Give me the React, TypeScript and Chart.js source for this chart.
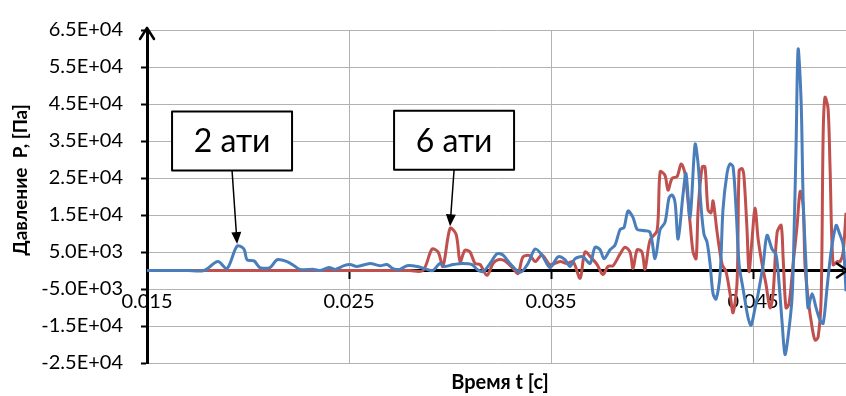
import { useEffect, useRef } from "react";
import { Chart, registerables } from "chart.js";

Chart.register(...registerables);

// ---- Data (time in s, pressure in Pa) ----
const series2atiLabel = "2 ати";
const series2ati: [number, number][] = [
  [0.015, 0], [0.016, 0], [0.017, 0], [0.01782, 0], [0.01851, 2400], [0.01896, 500], [0.01946, 6600], [0.0198, 5800],
  [0.01995, 2900], [0.0203, 2600], [0.02059, 800], [0.02109, 800], [0.02144, 2900], [0.02193, 2400],
  [0.02228, 1300], [0.02257, 300], [0.02327, 300], [0.02356, 0], [0.02401, 800], [0.02431, 300],
  [0.02475, 1300], [0.02505, 1600], [0.0254, 1100], [0.02604, 1900], [0.02653, 1300], [0.02688, 1600],
  [0.02718, 500], [0.02752, 300], [0.02787, 1300], [0.02837, 1100], [0.02886, 300], [0.02916, 0],
  [0.0295, 1900], [0.02975, 1100], [0.03015, 1600], [0.03064, 1900], [0.03109, 1600], [0.03134, 300],
  [0.03163, -300], [0.03198, 1900], [0.03233, 4500], [0.03262, 4200], [0.03297, 1900], [0.03347, -500],
  [0.03386, 1900], [0.03421, 5800], [0.03455, 4200], [0.03495, 800], [0.03535, 3700], [0.03569, 2900],
  [0.03594, 1100], [0.03619, 3200], [0.03658, 3700], [0.03693, 1900], [0.03718, 6300], [0.03743, 5600],
  [0.03762, 3200], [0.03792, 5600], [0.03817, 6900], [0.03842, 11100], [0.03861, 11600], [0.03881, 16100],
  [0.03906, 14300], [0.03926, 11100], [0.03955, 10800], [0.0399, 10300], [0.04015, 3200], [0.0404, 11100],
  [0.04064, 13000], [0.04084, 19600], [0.04099, 20400], [0.04114, 18300], [0.04129, 8500], [0.04153, 20400],
  [0.04168, 26200], [0.04188, 14300], [0.04213, 34100], [0.04228, 28800], [0.04243, 16900], [0.04257, 9800],
  [0.04272, 7700], [0.04287, 1900], [0.04302, -6300], [0.04317, -7700], [0.04337, -800], [0.04351, 16400],
  [0.04371, 26200], [0.04386, 28800], [0.04401, 28000], [0.04416, 16400], [0.04431, 1600], [0.0445, -4800],
  [0.04475, -12700], [0.0449, -14800], [0.0451, -10100], [0.04525, -6300], [0.0455, 1600], [0.04569, 9500],
  [0.04594, 5800], [0.04614, 4200], [0.04629, -3700], [0.04644, -14300], [0.04658, -22700], [0.04673, -18000],
  [0.04693, -7400], [0.04703, 10300], [0.04713, 34100], [0.04723, 59800], [0.04738, 45500], [0.04748, 19000],
  [0.04762, 1600], [0.04772, -10100], [0.04792, -6300], [0.04812, -10100], [0.04832, -13500], [0.04847, -14300],
  [0.04866, -4800], [0.04886, 5000], [0.04911, 12200], [0.04926, 10300], [0.04946, 6900], [0.0496, -5600],
];

const series6atiLabel = "6 ати";
const series6ati: [number, number][] = [
  [0.015, 0], [0.016, 0], [0.017, 0], [0.018, 0], [0.019, 0], [0.02, 0], [0.021, 0], [0.022, 0],
  [0.023, 0], [0.024, 0], [0.025, 0], [0.026, 0], [0.027, 0], [0.028, 0], [0.02866, 0],
  [0.02911, 5800], [0.02941, 5000], [0.02965, 1100], [0.03, 11400],
  [0.0303, 9800], [0.0305, 2400], [0.03074, 5500], [0.03099, 5000], [0.03124, 1900], [0.03149, 1600],
  [0.03183, -1300], [0.03213, 1900], [0.03238, 2900], [0.03272, 2600], [0.03312, 500], [0.03337, -800],
  [0.03361, 3700], [0.03396, 4000], [0.03421, 2400], [0.03455, 4200], [0.03495, 1600], [0.03545, 2400],
  [0.03579, 1900], [0.03609, 2400], [0.03644, -2100], [0.03668, 5000], [0.03703, 3200], [0.03728, 1600],
  [0.03757, -1100], [0.03782, 1100], [0.03807, 1300], [0.03842, 4500], [0.03866, 6300], [0.03891, 5000],
  [0.03906, 500], [0.03926, 5600], [0.0395, 5000], [0.03965, 300], [0.0399, 8200], [0.04025, 10800],
  [0.0404, 26700], [0.04064, 25700], [0.04079, 21700], [0.04099, 24900], [0.04124, 25400], [0.04144, 28800],
  [0.04163, 26200], [0.04188, 13000], [0.04203, 5000], [0.04218, 3200], [0.04228, 16400], [0.04248, 28000],
  [0.04262, 28000], [0.04277, 16400], [0.04292, 15600], [0.04302, 18800], [0.04322, 10300], [0.04347, 1600],
  [0.04366, -300], [0.04386, -6300], [0.04401, -11400], [0.04421, -2900], [0.04431, 27000], [0.04446, 27500],
  [0.04455, 25400], [0.0447, 11100], [0.0448, -300], [0.04495, 8500], [0.0451, 16900], [0.04525, 8500],
  [0.04545, 1600], [0.04564, -3700], [0.04584, -10100], [0.04599, -6300], [0.04619, 10300], [0.04639, 12200],
  [0.04649, 3200], [0.04663, -10100], [0.04678, -9000], [0.04698, 1600], [0.04718, 12200], [0.04733, 21400],
  [0.04748, 17500], [0.04757, 1600], [0.04772, -7400], [0.04792, -15300], [0.04807, -18800], [0.04822, -18000],
  [0.04837, -7400], [0.04847, 36800], [0.04856, 46800], [0.04871, 43900], [0.04881, 28000], [0.04896, 1600],
  [0.04916, 2400], [0.04931, 2400], [0.04946, 5000], [0.0496, 15600],
];

const xTickValues = [0.015, 0.025, 0.035, 0.045];
const xTickLabels = ["0.015", "0.025", "0.035", "0.045"];
const yTickValues = [-25000, -15000, -5000, 5000, 15000, 25000, 35000, 45000, 55000, 65000];
const yTickLabels = ["-2.5E+04", "-1.5E+04", "-5.0E+03", "5.0E+03", "1.5E+04", "2.5E+04", "3.5E+04", "4.5E+04", "5.5E+04", "6.5E+04"];

const xTitle = "Время t [с]";
const yTitle = "Давление  P, [Па]";

// annotation callouts: label, peak it points to, box centre (data units)
const calloutLabels = [series2atiLabel, series6atiLabel];
const calloutPeakT = [0.01946, 0.03];
const calloutPeakP = [6600, 11400];
const calloutBoxT = [0.01921, 0.0302];
const calloutBoxP = [35000, 35200];

const X_MIN = 0.015;
const X_MAX = 0.0496;
const Y_MIN = -25000;
const Y_MAX = 65000;

const FONT = "Lato, 'Noto Sans', 'DejaVu Sans', sans-serif";
const BLUE = "#4a7ebb";
const RED = "#c0504d";

const overlayPlugin = {
  id: "overlay",
  afterDraw(chart: any) {
    const { ctx, chartArea, scales } = chart;
    const xs = scales.x;
    const ys = scales.y;
    const ax = chartArea.left;
    const y0 = ys.getPixelForValue(0);
    ctx.save();
    // axis arrows
    ctx.strokeStyle = "#000";
    ctx.lineWidth = 2.5;
    ctx.lineCap = "round";
    ctx.lineJoin = "round";
    ctx.beginPath();
    ctx.moveTo(ax, chartArea.top);
    ctx.lineTo(ax, chartArea.top - 2);
    ctx.moveTo(ax - 7, chartArea.top + 9);
    ctx.lineTo(ax, chartArea.top - 2);
    ctx.lineTo(ax + 7, chartArea.top + 9);
    ctx.stroke();
    ctx.beginPath();
    ctx.moveTo(chartArea.right - 9, y0 - 7);
    ctx.lineTo(chartArea.right + 1, y0);
    ctx.lineTo(chartArea.right - 9, y0 + 7);
    ctx.stroke();

    // callouts
    calloutLabels.forEach((label, i) => {
      const bx = xs.getPixelForValue(calloutBoxT[i]);
      const by = ys.getPixelForValue(calloutBoxP[i]);
      const w = 120;
      const h = 59;
      const tx = xs.getPixelForValue(calloutPeakT[i]);
      const ty = ys.getPixelForValue(calloutPeakP[i]) - 2;
      const sx = bx;
      const sy = by + h / 2;
      const ang = Math.atan2(ty - sy, tx - sx);
      const hl = 12;
      const hw = 5;
      ctx.strokeStyle = "#000";
      ctx.lineWidth = 1.5;
      ctx.beginPath();
      ctx.moveTo(sx, sy);
      ctx.lineTo(tx - Math.cos(ang) * hl * 0.8, ty - Math.sin(ang) * hl * 0.8);
      ctx.stroke();
      ctx.fillStyle = "#000";
      ctx.beginPath();
      ctx.moveTo(tx, ty);
      ctx.lineTo(tx - Math.cos(ang) * hl - Math.sin(ang) * hw, ty - Math.sin(ang) * hl + Math.cos(ang) * hw);
      ctx.lineTo(tx - Math.cos(ang) * hl + Math.sin(ang) * hw, ty - Math.sin(ang) * hl - Math.cos(ang) * hw);
      ctx.closePath();
      ctx.fill();
      ctx.fillStyle = "#fff";
      ctx.fillRect(bx - w / 2, by - h / 2, w, h);
      ctx.lineWidth = 2;
      ctx.strokeRect(bx - w / 2, by - h / 2, w, h);
      ctx.fillStyle = "#000";
      ctx.font = `32px ${FONT}`;
      ctx.textAlign = "center";
      ctx.textBaseline = "middle";
      ctx.fillText(label, bx, by + 1);
    });

    // axis titles
    ctx.fillStyle = "#000";
    ctx.font = `bold 20px ${FONT}`;
    ctx.textAlign = "center";
    ctx.textBaseline = "middle";
    ctx.fillText(xTitle, 500, 383);
    ctx.font = `bold 19px ${FONT}`;
    ctx.save();
    ctx.translate(21, 180);
    ctx.rotate(-Math.PI / 2);
    ctx.fillText(yTitle, 0, 0);
    ctx.restore();
    ctx.restore();
  },
};

export default function App() {
  const canvasRef = useRef<HTMLCanvasElement | null>(null);

  useEffect(() => {
    const canvas = canvasRef.current;
    if (!canvas) return;
    const chart = new Chart(canvas, {
      type: "line",
      data: {
        datasets: [
          {
            label: series2atiLabel,
            data: series2ati.map(([t, p]) => ({ x: t, y: p })),
            borderColor: BLUE,
            borderWidth: 3,
            pointRadius: 0,
            tension: 0.3,
            fill: false,
          },
          {
            label: series6atiLabel,
            data: series6ati.map(([t, p]) => ({ x: t, y: p })),
            borderColor: RED,
            borderWidth: 3,
            pointRadius: 0,
            tension: 0.3,
            fill: false,
          },
        ],
      },
      options: {
        animation: false,
        responsive: false,
        maintainAspectRatio: false,
        layout: { padding: { left: 0, right: 0, top: 23, bottom: 33 } },
        plugins: {
          legend: { display: false },
          tooltip: { enabled: false },
        },
        scales: {
          x: {
            type: "linear",
            position: { y: 0 } as any,
            min: X_MIN,
            max: X_MAX,
            afterBuildTicks: (s: any) => {
              s.ticks = xTickValues.map((v) => ({ value: v }));
            },
            ticks: {
              autoSkip: false,
              maxRotation: 0,
              color: "#000",
              font: { family: FONT, size: 20 },
              padding: 12,
              callback: (_v: any, i: number) => xTickLabels[i],
            },
            grid: {
              color: "#b2b2b2",
              lineWidth: 1,
              tickLength: 7,
              tickColor: "#000",
              tickWidth: 2,
            },
            border: { color: "#000", width: 3 },
          },
          y: {
            type: "linear",
            position: "left",
            min: Y_MIN,
            max: Y_MAX,
            afterBuildTicks: (s: any) => {
              s.ticks = yTickValues.map((v) => ({ value: v }));
            },
            afterFit: (s: any) => {
              s.width = 147;
            },
            ticks: {
              autoSkip: false,
              color: "#000",
              font: { family: FONT, size: 20 },
              padding: 18,
              callback: (_v: any, i: number) => yTickLabels[i],
            },
            grid: {
              color: "#b2b2b2",
              lineWidth: 1,
              tickLength: 6,
              tickColor: "#000",
              tickWidth: 2,
            },
            border: { color: "#000", width: 3 },
          },
        },
      },
      plugins: [overlayPlugin],
    });
    return () => chart.destroy();
  }, []);

  return (
    <div style={{ position: "absolute", left: 0, top: 0, width: 846, height: 396, background: "#fff", overflow: "hidden" }}>
      <canvas ref={canvasRef} width={846} height={396} style={{ display: "block" }} />
    </div>
  );
}
